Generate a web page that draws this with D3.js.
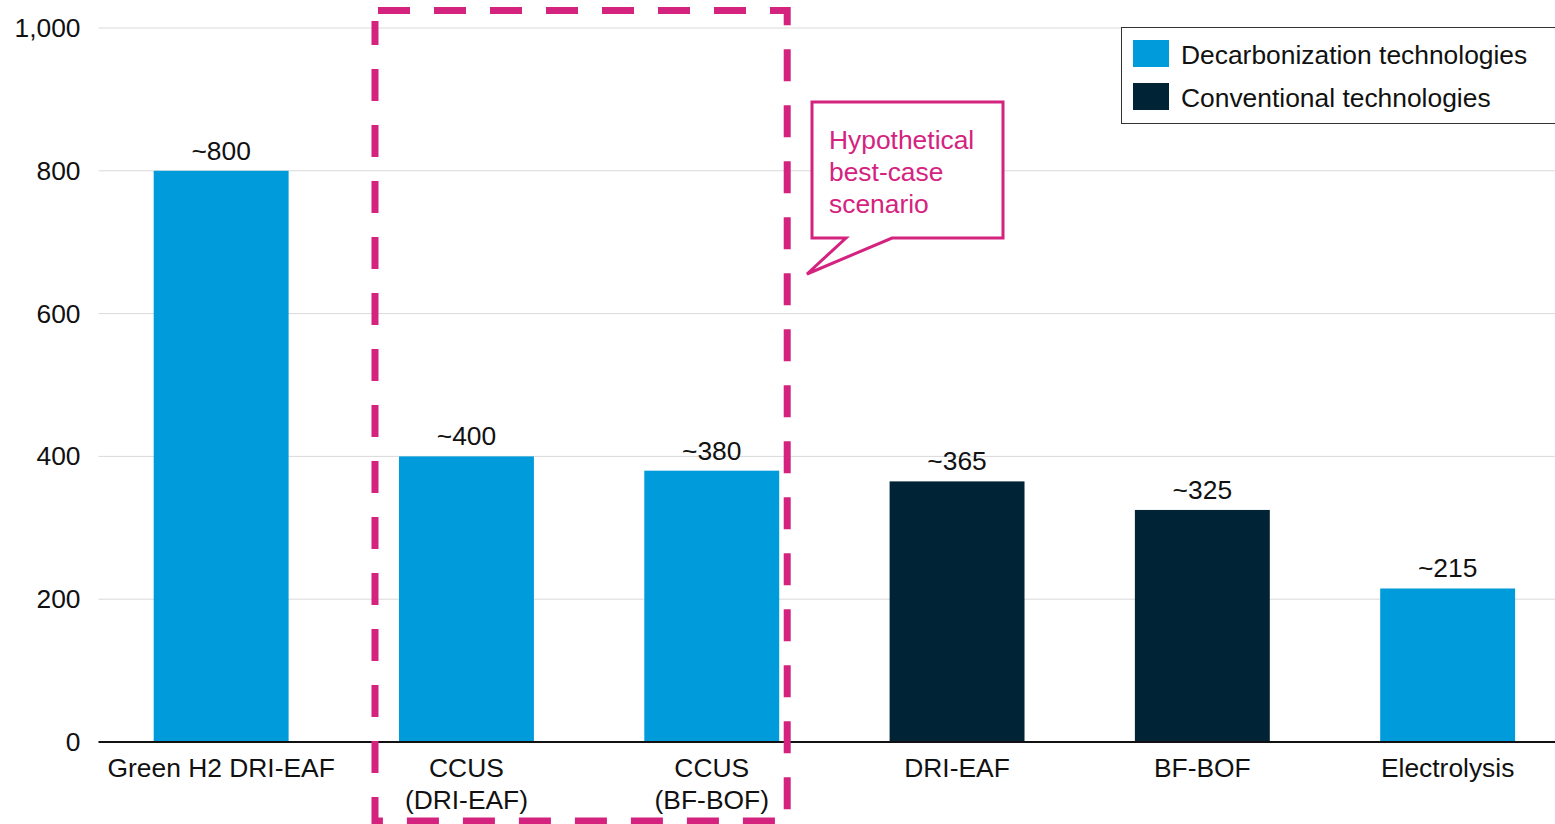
<!DOCTYPE html>
<html>
<head>
<meta charset="utf-8">
<script src="https://cdn.jsdelivr.net/npm/d3@7/dist/d3.min.js"></script>
<style>
  html, body { margin: 0; padding: 0; background: #fff; }
  svg { display: block; font-family: "Liberation Sans", Arial, sans-serif; }
</style>
</head>
<body>
<svg id="chart" width="1555" height="824"></svg>
<script>
// Steelmaking routes and their values
const categories = [
  ["Green H2 DRI-EAF"],
  ["CCUS", "(DRI-EAF)"],
  ["CCUS", "(BF-BOF)"],
  ["DRI-EAF"],
  ["BF-BOF"],
  ["Electrolysis"]
];
const values = [800, 400, 380, 365, 325, 215];
const valueLabels = ["~800", "~400", "~380", "~365", "~325", "~215"];
const groups = ["decarb", "decarb", "decarb", "conv", "conv", "decarb"];
const yTicks = [0, 200, 400, 600, 800, 1000];
const legendItems = [
  { key: "decarb", label: "Decarbonization technologies" },
  { key: "conv", label: "Conventional technologies" }
];
const calloutLines = ["Hypothetical", "best-case", "scenario"];

const colors = { decarb: "#009bdb", conv: "#002335" };
const magenta = "#d4237f";
const fs = 26.4;

const svg = d3.select("#chart");
const W = 1555;
const plotLeft = 98.5, plotTop = 28, plotBottom = 742;

const keys = categories.map(c => c.join(" "));
const x = d3.scaleBand().domain(keys).range([plotLeft, plotLeft + 6 * 245.3]).paddingInner(0.45).paddingOuter(0.225);
const y = d3.scaleLinear().domain([0, 1000]).range([plotBottom, plotTop]);

// gridlines
svg.append("g")
  .selectAll("line")
  .data(yTicks.filter(d => d > 0))
  .join("line")
  .attr("x1", plotLeft).attr("x2", W)
  .attr("y1", d => y(d)).attr("y2", d => y(d))
  .attr("stroke", "#d9d9d9").attr("stroke-width", 1);

// y axis labels
const yAxis = d3.axisLeft(y).tickValues(yTicks).tickSize(0).tickPadding(18)
  .tickFormat(d3.format(","));
svg.append("g")
  .attr("transform", `translate(${plotLeft},0)`)
  .call(yAxis)
  .call(g => g.select(".domain").remove())
  .call(g => g.selectAll("text")
    .attr("font-size", fs)
    .attr("font-family", "Liberation Sans, Arial, sans-serif")
    .attr("fill", "#111"));

// bars
svg.append("g")
  .selectAll("rect")
  .data(values)
  .join("rect")
  .attr("x", (d, i) => x(keys[i]))
  .attr("width", x.bandwidth())
  .attr("y", d => y(d))
  .attr("height", d => y(0) - y(d))
  .attr("fill", (d, i) => colors[groups[i]]);

// value labels
svg.append("g")
  .selectAll("text")
  .data(values)
  .join("text")
  .attr("x", (d, i) => x(keys[i]) + x.bandwidth() / 2)
  .attr("y", d => y(d) - 11)
  .attr("text-anchor", "middle")
  .attr("font-size", fs)
  .attr("fill", "#111")
  .text((d, i) => valueLabels[i]);

// baseline
svg.append("line")
  .attr("x1", plotLeft).attr("x2", W)
  .attr("y1", y(0)).attr("y2", y(0))
  .attr("stroke", "#111").attr("stroke-width", 2);

// category labels
const catG = svg.append("g");
categories.forEach((lines, i) => {
  const t = catG.append("text")
    .attr("x", x(keys[i]) + x.bandwidth() / 2)
    .attr("y", y(0) + 35)
    .attr("text-anchor", "middle")
    .attr("font-size", fs)
    .attr("fill", "#111");
  lines.forEach((ln, j) => {
    t.append("tspan")
      .attr("x", x(keys[i]) + x.bandwidth() / 2)
      .attr("dy", j === 0 ? 0 : 32)
      .text(ln);
  });
});

// dashed box around the CCUS routes
const boxL = x(keys[1]) - 24;
const boxR = x(keys[2]) + x.bandwidth() + 8;
svg.append("path")
  .attr("d", `M${boxL + 3},10.5 H${boxR} V821 H${boxL} V21`)
  .attr("fill", "none")
  .attr("stroke", magenta)
  .attr("stroke-width", 7)
  .attr("stroke-dasharray", "32 24");

// callout
const cx0 = 812, cy0 = 102, cx1 = 1003, cy1 = 238;
svg.append("path")
  .attr("d", `M${cx0},${cy0} H${cx1} V${cy1} H892 L807,274 L846,${cy1} H${cx0} Z`)
  .attr("fill", "#fff")
  .attr("stroke", magenta)
  .attr("stroke-width", 3)
  .attr("stroke-linejoin", "miter");
const ct = svg.append("text")
  .attr("x", 829).attr("y", 149)
  .attr("font-size", fs)
  .attr("fill", magenta);
calloutLines.forEach((ln, j) => {
  ct.append("tspan").attr("x", 829).attr("dy", j === 0 ? 0 : 32).text(ln);
});

// legend
const lg = svg.append("g");
lg.append("rect")
  .attr("x", 1121.5).attr("y", 27.5)
  .attr("width", 460).attr("height", 96)
  .attr("fill", "#fff").attr("stroke", "#333").attr("stroke-width", 1);
legendItems.forEach((it, i) => {
  lg.append("rect")
    .attr("x", 1133).attr("y", 40 + i * 43)
    .attr("width", 36).attr("height", 27)
    .attr("fill", colors[it.key]);
  lg.append("text")
    .attr("x", 1181).attr("y", 64 + i * 43)
    .attr("font-size", fs)
    .attr("fill", "#111")
    .text(it.label);
});
</script>
</body>
</html>
